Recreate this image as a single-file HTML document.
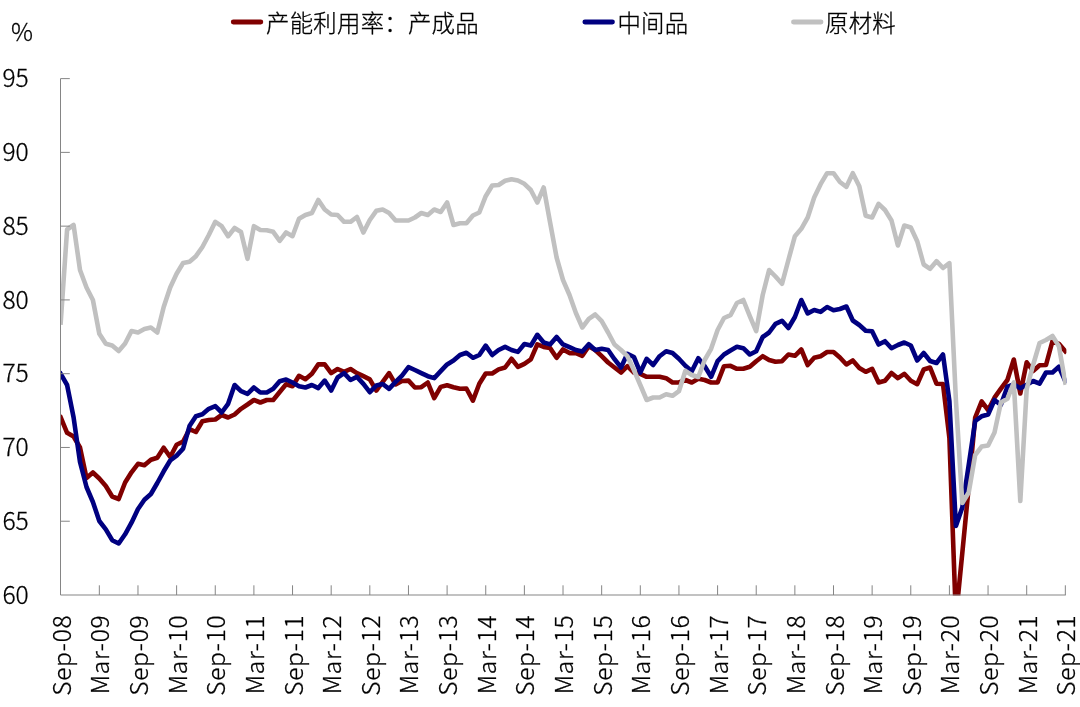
<!DOCTYPE html>
<html lang="zh"><head><meta charset="utf-8"><title>产能利用率</title>
<style>html,body{margin:0;padding:0;background:#fff;}body{width:1080px;height:707px;overflow:hidden;position:relative;}svg{display:block;position:absolute;left:0;top:0;}text{font-family:"Noto Sans CJK SC","Liberation Sans",sans-serif;font-weight:300;fill:#000;stroke:#000;stroke-width:0.3px;}text.lg{font-family:"Liberation Sans","Noto Sans CJK SC",sans-serif;}</style></head><body>
<svg width="1080" height="707" viewBox="0 0 1080 707">
<rect width="1080" height="707" fill="#fff"/>
<defs><clipPath id="c"><rect x="60" y="0" width="1006.4" height="595.6"/></clipPath></defs>
<g fill="none" stroke-width="4.6" stroke-linejoin="round" stroke-linecap="square">
<path clip-path="url(#c)" d="M60.7,417.5 L67.1,432.8 L73.6,436.5 L80.0,447.5 L86.5,478.0 L92.9,472.5 L99.3,478.5 L105.8,486.0 L112.2,496.5 L118.7,499.0 L125.1,482.5 L131.5,472.3 L138.0,463.8 L144.4,465.2 L150.9,459.8 L157.3,457.7 L163.7,447.7 L170.2,457.0 L176.6,444.7 L183.1,441.5 L189.5,429.2 L195.9,432.0 L202.4,421.2 L208.8,420.0 L215.3,419.5 L221.7,415.0 L228.1,417.5 L234.6,414.5 L241.0,408.8 L247.5,404.5 L253.9,400.0 L260.3,402.5 L266.8,400.0 L273.2,400.0 L279.7,392.0 L286.1,384.2 L292.5,386.2 L299.0,375.8 L305.4,379.2 L311.9,373.8 L318.3,364.4 L324.7,364.4 L331.2,373.1 L337.6,369.0 L344.1,371.9 L350.5,369.0 L356.9,373.1 L363.4,376.2 L369.8,379.4 L376.3,390.6 L382.7,381.9 L389.1,373.1 L395.6,384.4 L402.0,381.0 L408.5,380.6 L414.9,387.5 L421.3,387.2 L427.8,382.5 L434.2,398.1 L440.7,386.9 L447.1,385.2 L453.5,387.2 L460.0,388.8 L466.4,388.5 L472.9,400.6 L479.3,383.8 L485.7,373.5 L492.2,373.5 L498.6,369.4 L505.1,367.5 L511.5,358.8 L517.9,366.9 L524.4,363.8 L530.8,359.4 L537.3,344.4 L543.7,346.9 L550.1,348.1 L556.6,357.8 L563.0,349.4 L569.5,353.1 L575.9,353.1 L582.3,355.8 L588.8,346.2 L595.2,350.0 L601.7,356.2 L608.1,362.5 L614.5,367.5 L621.0,372.5 L627.4,366.2 L633.9,372.5 L640.3,373.8 L646.7,376.8 L653.2,376.8 L659.6,376.8 L666.1,378.2 L672.5,382.5 L678.9,382.5 L685.4,380.0 L691.8,382.5 L698.3,378.8 L704.7,380.0 L711.1,382.5 L717.6,382.5 L724.0,366.2 L730.5,365.8 L736.9,368.8 L743.3,368.8 L749.8,366.8 L756.2,361.2 L762.7,356.2 L769.1,360.0 L775.5,361.8 L782.0,361.2 L788.4,354.5 L794.9,355.8 L801.3,349.5 L807.7,365.0 L814.2,357.8 L820.6,356.2 L827.1,352.0 L833.5,352.0 L839.9,357.5 L846.4,364.5 L852.8,360.5 L859.3,368.0 L865.7,371.8 L872.1,368.8 L878.6,382.5 L885.0,380.8 L891.5,373.0 L897.9,378.2 L904.3,373.8 L910.8,380.8 L917.2,384.2 L923.7,369.5 L930.1,367.5 L936.5,383.7 L943.0,384.0 L949.4,438.0 L955.9,618.0 L962.3,553.0 L968.7,487.0 L975.2,417.5 L981.6,401.5 L988.1,410.0 L994.5,397.7 L1000.9,388.7 L1007.4,380.0 L1013.8,359.5 L1020.3,393.5 L1026.7,362.3 L1033.1,371.0 L1039.6,365.3 L1046.0,365.0 L1052.5,341.0 L1058.9,343.8 L1065.3,351.2" stroke="#800000"/>
<path clip-path="url(#c)" d="M60.7,373.8 L67.1,385.0 L73.6,417.5 L80.0,462.0 L86.5,487.0 L92.9,502.0 L99.3,521.0 L105.8,529.3 L112.2,540.2 L118.7,543.5 L125.1,534.3 L131.5,522.7 L138.0,509.0 L144.4,499.8 L150.9,494.0 L157.3,483.0 L163.7,471.3 L170.2,460.5 L176.6,455.6 L183.1,448.7 L189.5,426.0 L195.9,416.2 L202.4,414.2 L208.8,408.8 L215.3,406.2 L221.7,412.5 L228.1,403.8 L234.6,385.0 L241.0,391.2 L247.5,393.8 L253.9,387.5 L260.3,392.5 L266.8,392.5 L273.2,388.8 L279.7,381.2 L286.1,379.5 L292.5,382.5 L299.0,386.2 L305.4,387.5 L311.9,385.0 L318.3,388.1 L324.7,380.6 L331.2,390.6 L337.6,377.5 L344.1,373.1 L350.5,380.0 L356.9,376.9 L363.4,383.8 L369.8,392.2 L376.3,385.6 L382.7,384.0 L389.1,388.8 L395.6,381.9 L402.0,375.6 L408.5,367.2 L414.9,370.0 L421.3,373.1 L427.8,376.2 L434.2,378.1 L440.7,371.2 L447.1,364.4 L453.5,360.6 L460.0,355.0 L466.4,352.8 L472.9,357.8 L479.3,355.0 L485.7,345.6 L492.2,355.0 L498.6,350.0 L505.1,346.9 L511.5,350.0 L517.9,351.9 L524.4,344.0 L530.8,345.6 L537.3,334.8 L543.7,342.5 L550.1,344.4 L556.6,336.9 L563.0,344.4 L569.5,347.2 L575.9,350.0 L582.3,351.6 L588.8,344.2 L595.2,350.0 L601.7,348.8 L608.1,350.0 L614.5,359.2 L621.0,367.5 L627.4,353.8 L633.9,357.0 L640.3,372.5 L646.7,358.8 L653.2,365.0 L659.6,356.2 L666.1,351.2 L672.5,353.0 L678.9,358.8 L685.4,365.8 L691.8,371.2 L698.3,358.2 L704.7,366.2 L711.1,376.8 L717.6,361.2 L724.0,354.5 L730.5,350.5 L736.9,346.8 L743.3,348.2 L749.8,354.5 L756.2,351.2 L762.7,337.0 L769.1,332.5 L775.5,323.8 L782.0,320.8 L788.4,328.0 L794.9,317.0 L801.3,300.0 L807.7,313.4 L814.2,310.0 L820.6,311.9 L827.1,307.0 L833.5,310.2 L839.9,309.0 L846.4,306.5 L852.8,320.5 L859.3,325.0 L865.7,330.8 L872.1,331.2 L878.6,344.5 L885.0,341.2 L891.5,348.2 L897.9,345.0 L904.3,342.5 L910.8,345.5 L917.2,360.5 L923.7,353.0 L930.1,361.0 L936.5,363.0 L943.0,354.5 L949.4,401.0 L955.9,526.0 L962.3,507.5 L968.7,465.0 L975.2,421.0 L981.6,416.3 L988.1,414.5 L994.5,400.0 L1000.9,404.8 L1007.4,386.7 L1013.8,384.4 L1020.3,388.3 L1026.7,384.8 L1033.1,381.0 L1039.6,383.6 L1046.0,372.5 L1052.5,372.5 L1058.9,366.8 L1065.3,381.2" stroke="#000080"/>
<path clip-path="url(#c)" d="M60.7,322.5 L67.1,229.5 L73.6,225.0 L80.0,270.0 L86.5,287.5 L92.9,300.0 L99.3,333.8 L105.8,343.8 L112.2,345.5 L118.7,351.0 L125.1,343.5 L131.5,331.0 L138.0,332.5 L144.4,329.0 L150.9,327.5 L157.3,332.5 L163.7,307.0 L170.2,287.5 L176.6,273.8 L183.1,263.0 L189.5,261.8 L195.9,256.2 L202.4,247.0 L208.8,235.0 L215.3,221.8 L221.7,226.2 L228.1,236.2 L234.6,228.0 L241.0,232.0 L247.5,258.8 L253.9,226.2 L260.3,230.0 L266.8,230.2 L273.2,231.8 L279.7,240.8 L286.1,232.5 L292.5,236.2 L299.0,218.8 L305.4,215.0 L311.9,213.0 L318.3,200.0 L324.7,209.5 L331.2,214.5 L337.6,215.0 L344.1,221.8 L350.5,221.8 L356.9,217.0 L363.4,232.5 L369.8,220.0 L376.3,210.8 L382.7,209.5 L389.1,213.0 L395.6,220.5 L402.0,220.5 L408.5,220.5 L414.9,217.5 L421.3,213.0 L427.8,215.0 L434.2,209.5 L440.7,212.0 L447.1,202.5 L453.5,225.0 L460.0,223.2 L466.4,223.2 L472.9,215.5 L479.3,212.5 L485.7,196.2 L492.2,185.5 L498.6,185.0 L505.1,180.8 L511.5,179.2 L517.9,180.5 L524.4,183.8 L530.8,190.0 L537.3,202.5 L543.7,187.5 L550.1,222.5 L556.6,257.5 L563.0,280.0 L569.5,295.0 L575.9,313.0 L582.3,327.5 L588.8,318.8 L595.2,314.5 L601.7,321.2 L608.1,332.5 L614.5,344.5 L621.0,350.0 L627.4,356.2 L633.9,370.0 L640.3,385.0 L646.7,400.0 L653.2,397.5 L659.6,397.5 L666.1,394.2 L672.5,395.8 L678.9,391.2 L685.4,370.8 L691.8,375.0 L698.3,377.0 L704.7,360.0 L711.1,348.8 L717.6,330.0 L724.0,318.0 L730.5,315.2 L736.9,303.0 L743.3,300.0 L749.8,316.2 L756.2,331.2 L762.7,295.0 L769.1,270.0 L775.5,276.5 L782.0,283.8 L788.4,260.0 L794.9,236.2 L801.3,228.8 L807.7,217.5 L814.2,197.5 L820.6,184.2 L827.1,173.2 L833.5,173.2 L839.9,182.0 L846.4,186.8 L852.8,173.2 L859.3,186.2 L865.7,215.8 L872.1,217.5 L878.6,203.8 L885.0,210.0 L891.5,220.5 L897.9,245.5 L904.3,225.5 L910.8,227.5 L917.2,241.2 L923.7,264.5 L930.1,268.8 L936.5,261.2 L943.0,268.0 L949.4,263.2 L955.9,400.0 L962.3,503.0 L968.7,492.5 L975.2,455.0 L981.6,446.6 L988.1,445.5 L994.5,432.5 L1000.9,402.5 L1007.4,398.8 L1013.8,382.5 L1020.3,501.0 L1026.7,388.8 L1033.1,365.0 L1039.6,343.0 L1046.0,340.0 L1052.5,336.0 L1058.9,346.2 L1065.3,382.5" stroke="#c0c0c0"/>
</g>
<path d="M60.5,78.6 L60.5,595.0 L1065.8,595.0 M99.34,595.0 L99.34,585.30 M137.98,595.0 L137.98,585.30 M176.62,595.0 L176.62,585.30 M215.26,595.0 L215.26,585.30 M253.90,595.0 L253.90,585.30 M292.54,595.0 L292.54,585.30 M331.18,595.0 L331.18,585.30 M369.82,595.0 L369.82,585.30 M408.46,595.0 L408.46,585.30 M447.10,595.0 L447.10,585.30 M485.74,595.0 L485.74,585.30 M524.38,595.0 L524.38,585.30 M563.02,595.0 L563.02,585.30 M601.66,595.0 L601.66,585.30 M640.30,595.0 L640.30,585.30 M678.94,595.0 L678.94,585.30 M717.58,595.0 L717.58,585.30 M756.22,595.0 L756.22,585.30 M794.86,595.0 L794.86,585.30 M833.50,595.0 L833.50,585.30 M872.14,595.0 L872.14,585.30 M910.78,595.0 L910.78,585.30 M949.42,595.0 L949.42,585.30 M988.06,595.0 L988.06,585.30 M1026.70,595.0 L1026.70,585.30 M1065.34,595.0 L1065.34,585.30 M60.5,521.23 L69.80,521.23 M60.5,447.46 L69.80,447.46 M60.5,373.69 L69.80,373.69 M60.5,299.92 L69.80,299.92 M60.5,226.15 L69.80,226.15 M60.5,152.38 L69.80,152.38 M60.5,78.61 L69.80,78.61" fill="none" stroke="#858585" stroke-width="1"/>
<text x="2.4" y="603.60" font-size="24.5">60</text>
<text x="2.4" y="529.83" font-size="24.5">65</text>
<text x="2.4" y="456.06" font-size="24.5">70</text>
<text x="2.4" y="382.29" font-size="24.5">75</text>
<text x="2.4" y="308.52" font-size="24.5">80</text>
<text x="2.4" y="234.75" font-size="24.5">85</text>
<text x="2.4" y="160.98" font-size="24.5">90</text>
<text x="2.4" y="87.21" font-size="24.5">95</text>
<text x="11" y="41" font-size="24.5">%</text>
<text transform="translate(70.70,614.7) rotate(-90)" text-anchor="end" font-size="24.5" letter-spacing="0.7">Sep-08</text>
<text transform="translate(109.34,614.7) rotate(-90)" text-anchor="end" font-size="24.5" letter-spacing="0.7">Mar-09</text>
<text transform="translate(147.98,614.7) rotate(-90)" text-anchor="end" font-size="24.5" letter-spacing="0.7">Sep-09</text>
<text transform="translate(186.62,614.7) rotate(-90)" text-anchor="end" font-size="24.5" letter-spacing="0.7">Mar-10</text>
<text transform="translate(225.26,614.7) rotate(-90)" text-anchor="end" font-size="24.5" letter-spacing="0.7">Sep-10</text>
<text transform="translate(263.90,614.7) rotate(-90)" text-anchor="end" font-size="24.5" letter-spacing="0.7">Mar-11</text>
<text transform="translate(302.54,614.7) rotate(-90)" text-anchor="end" font-size="24.5" letter-spacing="0.7">Sep-11</text>
<text transform="translate(341.18,614.7) rotate(-90)" text-anchor="end" font-size="24.5" letter-spacing="0.7">Mar-12</text>
<text transform="translate(379.82,614.7) rotate(-90)" text-anchor="end" font-size="24.5" letter-spacing="0.7">Sep-12</text>
<text transform="translate(418.46,614.7) rotate(-90)" text-anchor="end" font-size="24.5" letter-spacing="0.7">Mar-13</text>
<text transform="translate(457.10,614.7) rotate(-90)" text-anchor="end" font-size="24.5" letter-spacing="0.7">Sep-13</text>
<text transform="translate(495.74,614.7) rotate(-90)" text-anchor="end" font-size="24.5" letter-spacing="0.7">Mar-14</text>
<text transform="translate(534.38,614.7) rotate(-90)" text-anchor="end" font-size="24.5" letter-spacing="0.7">Sep-14</text>
<text transform="translate(573.02,614.7) rotate(-90)" text-anchor="end" font-size="24.5" letter-spacing="0.7">Mar-15</text>
<text transform="translate(611.66,614.7) rotate(-90)" text-anchor="end" font-size="24.5" letter-spacing="0.7">Sep-15</text>
<text transform="translate(650.30,614.7) rotate(-90)" text-anchor="end" font-size="24.5" letter-spacing="0.7">Mar-16</text>
<text transform="translate(688.94,614.7) rotate(-90)" text-anchor="end" font-size="24.5" letter-spacing="0.7">Sep-16</text>
<text transform="translate(727.58,614.7) rotate(-90)" text-anchor="end" font-size="24.5" letter-spacing="0.7">Mar-17</text>
<text transform="translate(766.22,614.7) rotate(-90)" text-anchor="end" font-size="24.5" letter-spacing="0.7">Sep-17</text>
<text transform="translate(804.86,614.7) rotate(-90)" text-anchor="end" font-size="24.5" letter-spacing="0.7">Mar-18</text>
<text transform="translate(843.50,614.7) rotate(-90)" text-anchor="end" font-size="24.5" letter-spacing="0.7">Sep-18</text>
<text transform="translate(882.14,614.7) rotate(-90)" text-anchor="end" font-size="24.5" letter-spacing="0.7">Mar-19</text>
<text transform="translate(920.78,614.7) rotate(-90)" text-anchor="end" font-size="24.5" letter-spacing="0.7">Sep-19</text>
<text transform="translate(959.42,614.7) rotate(-90)" text-anchor="end" font-size="24.5" letter-spacing="0.7">Mar-20</text>
<text transform="translate(998.06,614.7) rotate(-90)" text-anchor="end" font-size="24.5" letter-spacing="0.7">Sep-20</text>
<text transform="translate(1036.70,614.7) rotate(-90)" text-anchor="end" font-size="24.5" letter-spacing="0.7">Mar-21</text>
<text transform="translate(1075.34,614.7) rotate(-90)" text-anchor="end" font-size="24.5" letter-spacing="0.7">Sep-21</text>
<line x1="233.3" y1="22" x2="260.8" y2="22" stroke="#800000" stroke-width="4.9" stroke-linecap="round"/>
<text class="lg" x="266" y="32" font-size="23.4" letter-spacing="0.27">产能利用率：产成品</text>
<line x1="584.9" y1="22" x2="612.4" y2="22" stroke="#000080" stroke-width="4.9" stroke-linecap="round"/>
<text class="lg" x="617.4" y="32" font-size="23.4" letter-spacing="0.27">中间品</text>
<line x1="793.5" y1="22" x2="821.0" y2="22" stroke="#c0c0c0" stroke-width="4.9" stroke-linecap="round"/>
<text class="lg" x="825" y="32" font-size="23.4" letter-spacing="0.27">原材料</text>
</svg></body></html>
